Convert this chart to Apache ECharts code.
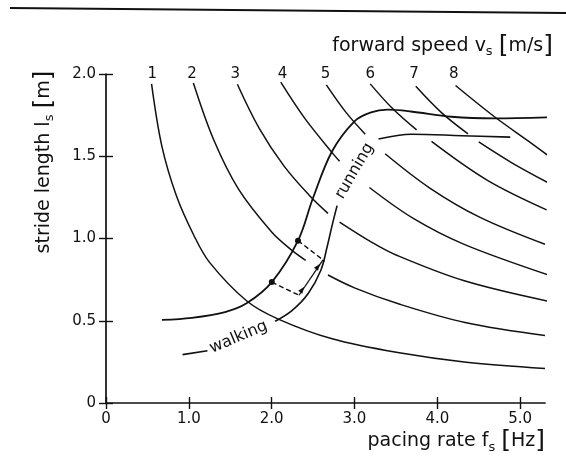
<!DOCTYPE html>
<html>
<head>
<meta charset="utf-8">
<script src="https://cdn.jsdelivr.net/npm/echarts@6/dist/echarts.min.js"></script>
<style>html,body{margin:0;padding:0;background:#fff}#c{width:566px;height:465px}</style>
</head>
<body>
<div id="c"></div>
<script>
// ---- data: [pacing rate f_s (Hz), stride length l_s (m)] ----
const xTickValues = [0, 1, 2, 3, 4, 5];
const xTickLabels = ['0', '1.0', '2.0', '3.0', '4.0', '5.0'];
const yTickValues = [0, 0.5, 1, 1.5, 2];
const yTickLabels = ['0', '0.5', '1.0', '1.5', '2.0'];

const speedLabels = ['1', '2', '3', '4', '5', '6', '7', '8'];
const speedLabelPacing = [0.56, 1.04, 1.56, 2.13, 2.65, 3.19, 3.72, 4.20];
const speedLabelStride = [2.0, 2.0, 2.0, 2.0, 2.0, 2.0, 2.0, 2.0];

const speed1 = [[0.55,1.94],[0.675,1.56],[0.85,1.26],[1.06,1.02],[1.25,0.855],[1.70,0.62],[2.08,0.51],[2.73,0.39],[3.54,0.305],[4.35,0.248],[5.30,0.21]];
const speed2 = [[1.055,1.945],[1.30,1.60],[1.60,1.30],[2.00,1.04],[2.25,0.926],[2.41,0.867],[null,null],[2.68,0.778],[3.00,0.70],[3.53,0.603],[4.335,0.489],[5.30,0.41]];
const speed3 = [[1.586,1.938],[1.85,1.67],[2.15,1.44],[2.45,1.265],[2.68,1.153],[null,null],[2.82,1.10],[3.20,0.98],[3.516,0.897],[4.326,0.743],[5.33,0.62]];
const speed4 = [[2.11,1.95],[2.40,1.73],[2.75,1.51],[2.82,1.47],[null,null],[3.18,1.31],[3.71,1.122],[4.317,0.966],[5.35,0.777]];
const speed5 = [[2.66,1.934],[2.90,1.765],[3.13,1.634],[null,null],[3.37,1.515],[3.90,1.31],[4.51,1.13],[5.30,0.965]];
const speed6 = [[3.19,1.94],[3.45,1.795],[3.75,1.66],[null,null],[3.93,1.59],[4.60,1.355],[5.32,1.174]];
const speed7 = [[3.74,1.925],[4.05,1.765],[4.37,1.636],[null,null],[4.50,1.587],[4.90,1.46],[5.33,1.341]];
const speed8 = [[4.22,1.93],[4.69,1.74],[5.10,1.592],[5.34,1.503]];

const walkRunUpper = [[0.675,0.505],[1.036,0.518],[1.437,0.553],[1.697,0.606],[2.002,0.735],[2.318,0.987],[2.497,1.243],[2.728,1.529],[3.003,1.714],[3.20,1.767],[3.40,1.783],[3.68,1.772],[4.17,1.74],[4.69,1.73],[5.33,1.736]];
const walkRunLower = [[0.924,0.294],[1.225,0.318],[null,null],[2.042,0.497],[2.241,0.56],[2.439,0.664],[2.594,0.807],[2.67,0.95],[2.73,1.08],[2.79,1.20],[null,null],[3.29,1.605],[3.69,1.634],[4.29,1.625],[4.88,1.616]];

const transitionPoints = [[2.002,0.735],[2.318,0.987]];
const loopLowerPath = [[2.002,0.735],[2.33,0.655]];
const loopUpperPath = [[2.318,0.987],[2.64,0.862]];
const loopRightPath = [[2.33,0.655],[2.62,0.87]];
const loopArrows = [[2.37,0.69],[2.56,0.83]];

const gaitLabelNames = ['walking', 'running'];
const gaitLabelPoints = [[1.60,0.40],[3.00,1.41]];

// ---- styling ----
const INK = '#111111';
const FONT = 'DejaVu Sans';
const RICH = {
  a: {fontFamily: FONT, fontSize: 19, color: INK, fill: INK},
  s: {fontFamily: FONT, fontSize: 13, color: INK, fill: INK, verticalAlign: 'bottom', lineHeight: 21},
  b: {fontFamily: FONT, fontSize: 25, color: INK, fill: INK}
};
function idx(arr, v) { return arr.findIndex(t => Math.abs(t - v) < 1e-9); }

const speedCurves = [speed1, speed2, speed3, speed4, speed5, speed6, speed7, speed8];
const curveLine = {color: INK, width: 1.5};
const solidItem = {color: INK, opacity: 1};

const series = [];
speedCurves.forEach((d, i) => {
  series.push({
    type: 'line', name: 'v = ' + speedLabels[i] + ' m/s', data: d,
    smooth: 0.35, showSymbol: false, symbol: 'none',
    connectNulls: false, clip: false, lineStyle: curveLine, silent: true
  });
});
series.push({type: 'line', name: 'upper', data: walkRunUpper, smooth: 0.35,
  symbol: 'none', connectNulls: false, clip: false, lineStyle: {color: INK, width: 1.8}, silent: true});
series.push({type: 'line', name: 'lower', data: walkRunLower, smooth: 0.35,
  symbol: 'none', connectNulls: false, clip: false, lineStyle: {color: INK, width: 1.6}, silent: true});
series.push({type: 'line', name: 'loop-low', data: loopLowerPath, symbol: 'none',
  lineStyle: {color: INK, width: 1.4, type: [5, 3]}, silent: true});
series.push({type: 'line', name: 'loop-up', data: loopUpperPath, symbol: 'none',
  lineStyle: {color: INK, width: 1.4, type: [5, 3]}, silent: true});
series.push({type: 'line', name: 'loop-right', data: loopRightPath, symbol: 'none',
  lineStyle: {color: INK, width: 1.3}, silent: true});
series.push({type: 'scatter', name: 'points', data: transitionPoints, symbol: 'circle', symbolSize: 6,
  itemStyle: solidItem, silent: true});
series.push({type: 'scatter', name: 'arrows', data: loopArrows, symbol: 'triangle', symbolSize: [5, 7],
  symbolRotate: -37, itemStyle: solidItem, silent: true});
series.push({type: 'scatter', name: 'speed labels', clip: false, symbolSize: 0, silent: true,
  itemStyle: solidItem,
  data: speedLabels.map((t, i) => ({name: t, value: [speedLabelPacing[i], speedLabelStride[i]]})),
  label: {show: true, position: 'inside', formatter: '{b}', fontFamily: FONT, fontSize: 15, color: INK, opacity: 1}});
series.push({type: 'scatter', name: 'gait labels', clip: false, symbolSize: 0, silent: true,
  itemStyle: solidItem,
  data: gaitLabelNames.map((t, i) => ({name: t, value: gaitLabelPoints[i], label: {rotate: i === 0 ? 23 : 60}})),
  label: {show: true, position: 'inside', formatter: '{b}', fontFamily: FONT, fontSize: 16, color: INK, opacity: 1}});

const axisLineStyle = {color: INK, width: 1.7};
const tickStyle = {color: INK, width: 1.4};

const option = {
  animation: false,
  backgroundColor: '#ffffff',
  textStyle: {fontFamily: FONT},
  grid: {left: 106, right: 21, top: 74, bottom: 62, containLabel: false},
  xAxis: [
    {type: 'value', min: 0, max: 5.3, position: 'bottom',
     axisLine: {show: true, onZero: false, lineStyle: axisLineStyle},
     axisTick: {show: true, customValues: xTickValues, length: 6, lineStyle: tickStyle},
     axisLabel: {show: true, customValues: xTickValues, margin: 9, fontSize: 15, color: INK, fontFamily: FONT,
       formatter: v => { const k = idx(xTickValues, v); return k < 0 ? '' : xTickLabels[k]; }},
     splitLine: {show: false},
     name: '{a|pacing rate f}{s|s}{a| }{b|[}{a|Hz}{b|]}', nameLocation: 'end', nameGap: 0,
     nameMoveOverlap: false,
     nameTextStyle: {align: 'right', verticalAlign: 'top', padding: [26, 0, 0, 0], rich: RICH}},
    {type: 'value', min: 0, max: 5.3, position: 'bottom',
     axisLine: {show: false},
     axisTick: {show: true, inside: true, customValues: xTickValues, length: 6, lineStyle: tickStyle},
     axisLabel: {show: false}, splitLine: {show: false}}
  ],
  yAxis: [
    {type: 'value', min: 0, max: 2, interval: 0.5, position: 'left',
     axisLine: {show: true, onZero: false, lineStyle: axisLineStyle},
     axisTick: {show: true, length: 7, lineStyle: tickStyle},
     axisLabel: {show: true, margin: 10, fontSize: 15, color: INK, fontFamily: FONT,
       formatter: v => { const k = idx(yTickValues, v); return k < 0 ? '' : yTickLabels[k]; }},
     splitLine: {show: false}},
    {type: 'value', min: 0, max: 2, interval: 0.5, position: 'left',
     axisLine: {show: false},
     axisTick: {show: true, inside: true, length: 7, lineStyle: tickStyle},
     axisLabel: {show: false}, splitLine: {show: false}}
  ],
  graphic: [
    {type: 'line', silent: true, shape: {x1: 10, y1: 8, x2: 566, y2: 13}, style: {stroke: INK, lineWidth: 2}},
    {type: 'text', silent: true, x: 44, y: 162, rotation: Math.PI / 2,
     style: {text: '{a|stride length l}{s|s}{a| }{b|[}{a|m}{b|]}', rich: RICH, align: 'center', verticalAlign: 'middle', fill: INK}},
    {type: 'text', silent: true, x: 553, y: 46,
     style: {text: '{a|forward speed v}{s|s}{a| }{b|[}{a|m/s}{b|]}', rich: RICH, align: 'right', verticalAlign: 'middle', fill: INK}}
  ],
  series: series
};

const chart = echarts.init(document.getElementById('c'), null, {renderer: 'canvas'});
chart.setOption(option);
</script>
</body>
</html>
